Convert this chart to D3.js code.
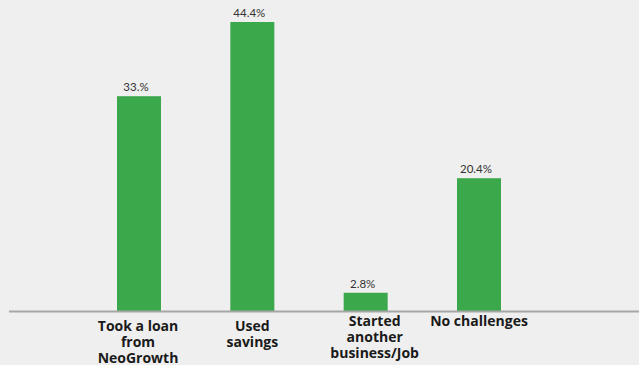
<!DOCTYPE html>
<html>
<head>
<meta charset="utf-8">
<script src="https://cdn.jsdelivr.net/npm/d3@7"></script>
<style>
  html, body { margin: 0; padding: 0; background: #efefef; }
  svg { display: block; }
</style>
</head>
<body>
<svg id="chart" width="639" height="365"></svg>
<script>
// Responses: how businesses coped with the challenge
const categories = [
  ["Took a loan", "from", "NeoGrowth"],
  ["Used", "savings"],
  ["Started", "another", "business/Job"],
  ["No challenges"]
];
const values = [33, 44.4, 2.8, 20.4];
const valueLabels = ["33.%", "44.4%", "2.8%", "20.4%"];

const W = 639, H = 365;
const baseline = 311;
const barWidth = 44;

const svg = d3.select("#chart");

svg.append("rect").attr("width", W).attr("height", H).attr("fill", "#efefef");

const x = d3.scalePoint()
  .domain(d3.range(categories.length))
  .range([139, 479]);

const y = d3.scaleLinear()
  .domain([0, 44.4])
  .range([baseline, 22]);

// bars
svg.selectAll("rect.bar")
  .data(values)
  .join("rect")
  .attr("class", "bar")
  .attr("x", (d, i) => x(i) - barWidth / 2)
  .attr("y", d => y(d))
  .attr("width", barWidth)
  .attr("height", d => baseline - y(d))
  .attr("fill", "#3ba84b");

// value labels above bars
svg.selectAll("text.val")
  .data(values)
  .join("text")
  .attr("class", "val")
  .attr("x", (d, i) => x(i) - 3)
  .attr("y", d => y(d) - 5)
  .attr("text-anchor", "middle")
  .attr("font-family", "Lato, 'Open Sans', sans-serif")
  .attr("font-size", 11.5)
  .attr("fill", "#333")
  .text((d, i) => valueLabels[i]);

// baseline axis
svg.append("line")
  .attr("x1", 9).attr("x2", W)
  .attr("y1", baseline + 0.5).attr("y2", baseline + 0.5)
  .attr("stroke", "#a6a6a6")
  .attr("stroke-width", 2);

// category labels (small nudges for the wrapped text blocks)
const labelNudge = [[-1, 0], [0, 0], [9, -5], [0, -5]];
const lab = svg.selectAll("text.cat")
  .data(categories)
  .join("text")
  .attr("class", "cat")
  .attr("text-anchor", "middle")
  .attr("font-family", "'Open Sans', sans-serif")
  .attr("font-weight", "bold")
  .attr("font-size", 14)
  .attr("fill", "#1a1a1a")
  .attr("transform", (d, i) => `translate(${x(i) + labelNudge[i][0]},${331 + labelNudge[i][1]})`);

lab.selectAll("tspan")
  .data(d => d)
  .join("tspan")
  .attr("x", 0)
  .attr("dy", (d, j) => j === 0 ? 0 : 16)
  .text(d => d);
</script>
</body>
</html>
